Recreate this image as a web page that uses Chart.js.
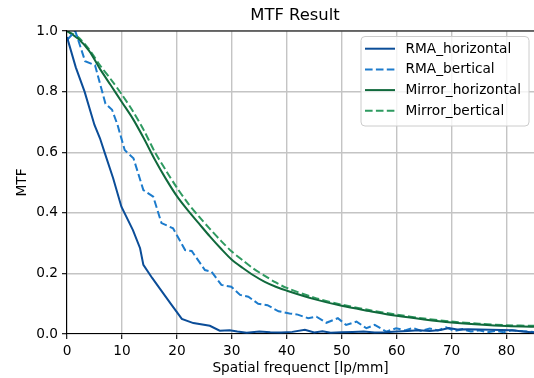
<!DOCTYPE html>
<html>
<head>
<meta charset="utf-8">
<script src="https://cdn.jsdelivr.net/npm/chart.js@4/dist/chart.umd.min.js"></script>
<style>
    body { margin: 0; background: #fff; }
    #wrap { width: 534px; height: 378px; position: relative; }
</style>
</head>
<body>
<div id="wrap"><canvas id="grafica"></canvas></div>
<script>
// Datos (lp/mm -> MTF)
const rmaHx = [0, 1.6, 3.2, 5.0, 6.0, 6.9, 8.4, 9.9, 12.0, 13.3, 13.9, 15.5, 16.9, 19.0, 20.9, 23.0, 26.0, 27.8, 29.6, 31.0, 32.7, 35.0, 37.0, 39.0, 41.0, 43.3, 45.0, 46.5, 48.0, 50.0, 52.0, 54.0, 56.0, 58.0, 60.0, 62.0, 64.0, 66.0, 68.0, 69.5, 71.0, 73.0, 75.0, 77.0, 79.0, 81.0, 83.0, 85.0, 87.0];
const rmaH = [0.98, 0.88, 0.80, 0.69, 0.646, 0.596, 0.514, 0.42, 0.343, 0.283, 0.228, 0.185, 0.15, 0.097, 0.05, 0.036, 0.027, 0.011, 0.012, 0.008, 0.004, 0.008, 0.006, 0.005, 0.007, 0.014, 0.005, 0.009, 0.004, 0.006, 0.007, 0.008, 0.005, 0.006, 0.008, 0.01, 0.012, 0.01, 0.013, 0.02, 0.015, 0.016, 0.015, 0.014, 0.013, 0.012, 0.008, 0.005, 0.004];

const rmaBx = [0, 1.5, 3.3, 5.1, 7.0, 8.2, 9.2, 10.5, 12.1, 13.9, 15.7, 17.2, 19.3, 21.5, 22.7, 25.1, 26.3, 28.1, 29.9, 31.5, 33.0, 34.8, 36.5, 38.5, 40.5, 42.0, 43.9, 45.4, 47.2, 49.3, 50.8, 52.7, 54.5, 56.0, 58.1, 59.9, 61.5, 63.0, 64.5, 66.0, 67.5, 69.0, 70.5, 72.0, 73.5, 75.0, 76.5, 78.0, 79.5, 81.0, 82.5, 84.0, 86.0];
const rmaB = [0.97, 1.0, 0.90, 0.887, 0.76, 0.74, 0.69, 0.607, 0.58, 0.475, 0.453, 0.366, 0.349, 0.277, 0.274, 0.211, 0.206, 0.162, 0.156, 0.129, 0.123, 0.10, 0.095, 0.075, 0.068, 0.064, 0.052, 0.057, 0.037, 0.052, 0.03, 0.041, 0.019, 0.03, 0.008, 0.019, 0.012, 0.02, 0.01, 0.018, 0.012, 0.022, 0.01, 0.016, 0.008, 0.012, 0.006, 0.01, 0.006, 0.012, 0.01, 0.008, 0.005];

const mirX = [0, 2, 4, 6, 8, 10, 12, 14, 16, 18, 20, 22, 24, 26, 28, 30, 32, 34, 36, 38, 40, 45, 50, 55, 60, 65, 70, 75, 80, 85, 90];
const mirH = [1.0, 0.975, 0.935, 0.875, 0.82, 0.765, 0.71, 0.645, 0.575, 0.512, 0.455, 0.408, 0.365, 0.322, 0.282, 0.245, 0.218, 0.193, 0.172, 0.156, 0.143, 0.115, 0.093, 0.076, 0.06, 0.048, 0.038, 0.031, 0.026, 0.024, 0.023];
const mirB = [1.0, 0.98, 0.94, 0.887, 0.84, 0.79, 0.735, 0.672, 0.6, 0.54, 0.483, 0.432, 0.388, 0.347, 0.308, 0.272, 0.243, 0.215, 0.192, 0.17, 0.152, 0.12, 0.097, 0.079, 0.064, 0.051, 0.041, 0.034, 0.029, 0.027, 0.026];

const nombres = ["RMA_horizontal", "RMA_bertical", "Mirror_horizontal", "Mirror_bertical"];
const colores = ["#0b4d98", "#1c7bcc", "#10693c", "#2e9a60"];

const xTicks = [0, 10, 20, 30, 40, 50, 60, 70, 80];
const yTicks = [0, 0.2, 0.4, 0.6, 0.8, 1.0];

function puntos(xs, ys) {
    return xs.map((x, i) => ({ x: x, y: ys[i] }));
}

const FUENTE = "DejaVu Sans";
Chart.defaults.font.family = FUENTE;
Chart.defaults.color = "#000";

// Titulo, marco superior y leyenda estilo matplotlib
const extras = {
    id: "extras",
    afterDraw(chart) {
        const ctx = chart.ctx;
        const area = chart.chartArea;
        ctx.save();

        // marco superior
        ctx.strokeStyle = "#000";
        ctx.lineWidth = 1.1;
        ctx.beginPath();
        ctx.moveTo(area.left, area.top);
        ctx.lineTo(area.right, area.top);
        ctx.stroke();

        // titulo
        ctx.fillStyle = "#000";
        ctx.font = "16.4px '" + FUENTE + "'";
        ctx.textAlign = "center";
        ctx.textBaseline = "middle";
        ctx.fillText("MTF Result", 295, 16);

        // leyenda
        ctx.beginPath();
        ctx.roundRect(361, 36.5, 168, 89.5, 4);
        ctx.fillStyle = "rgba(255,255,255,0.8)";
        ctx.fill();
        ctx.strokeStyle = "#cccccc";
        ctx.lineWidth = 1;
        ctx.stroke();

        ctx.font = "13.7px '" + FUENTE + "'";
        ctx.textAlign = "left";
        chart.data.datasets.forEach((ds, i) => {
            const y = 48.7 + i * 20.7;
            ctx.strokeStyle = ds.borderColor;
            ctx.lineWidth = ds.borderWidth;
            ctx.setLineDash(ds.borderDash || []);
            ctx.beginPath();
            ctx.moveTo(365, y);
            ctx.lineTo(395, y);
            ctx.stroke();
            ctx.setLineDash([]);
            ctx.fillStyle = "#000";
            ctx.fillText(ds.label, 405.5, y + 0.5);
        });
        ctx.restore();
    }
};

const series = [puntos(rmaHx, rmaH), puntos(rmaBx, rmaB), puntos(mirX, mirH), puntos(mirX, mirB)];

new Chart(document.getElementById("grafica"), {
    type: "line",
    data: {
        datasets: series.map((d, i) => ({
            label: nombres[i],
            data: d,
            borderColor: colores[i],
            backgroundColor: colores[i],
            borderWidth: 2,
            borderDash: i % 2 === 1 ? [7.6, 3.3] : [],
            pointRadius: 0,
            tension: i >= 2 ? 0.3 : 0,
            fill: false
        }))
    },
    options: {
        responsive: true,
        maintainAspectRatio: false,
        devicePixelRatio: 1,
        animation: false,
        layout: { padding: { top: 31, left: 0, right: 0, bottom: 0 } },
        plugins: {
            legend: { display: false },
            tooltip: { enabled: false }
        },
        scales: {
            x: {
                type: "linear",
                min: 0,
                max: 85,
                afterFit: (scale) => { scale.height = 44; },
                afterBuildTicks: (scale) => { scale.ticks = xTicks.map(v => ({ value: v })); },
                ticks: {
                    autoSkip: false,
                    maxRotation: 0,
                    padding: 4,
                    font: { size: 13.7 },
                    callback: (v) => String(v)
                },
                grid: { color: "#c4c4c4", lineWidth: 1.4, tickLength: 5, tickColor: "#000", tickWidth: 1.1 },
                border: { color: "#000", width: 1.1 },
                title: {
                    display: true,
                    text: "Spatial frequenct [lp/mm]",
                    font: { size: 13.7 },
                    padding: { top: 0, bottom: 1 }
                }
            },
            y: {
                min: 0,
                max: 1,
                afterFit: (scale) => { scale.width = 67; },
                afterBuildTicks: (scale) => { scale.ticks = yTicks.map(v => ({ value: v })); },
                ticks: {
                    padding: 4,
                    font: { size: 13.7 },
                    callback: (v) => Number(v).toFixed(1)
                },
                grid: { color: "#c4c4c4", lineWidth: 1.4, tickLength: 5, tickColor: "#000", tickWidth: 1.1 },
                border: { color: "#000", width: 1.1 },
                title: {
                    display: true,
                    text: "MTF",
                    font: { size: 13.7 },
                    padding: { top: 14, bottom: 0 }
                }
            }
        }
    },
    plugins: [extras]
});
</script>
</body>
</html>
